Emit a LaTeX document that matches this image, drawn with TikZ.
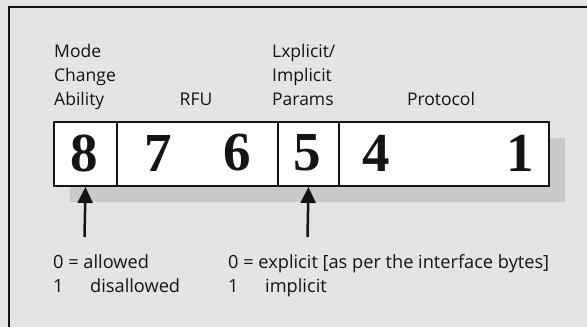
\documentclass[tikz,border=0pt]{standalone}
\usepackage{fontspec}
\setmainfont{Open Sans}
\newfontfamily\digitfont{Liberation Serif}
\usetikzlibrary{arrows.meta}
\definecolor{bggray}{HTML}{E4E4E4}
\definecolor{shadowgray}{HTML}{C9C9C9}
\definecolor{ink}{HTML}{141414}
\begin{document}
\begin{tikzpicture}[x=1pt,y=-1pt,
  cell/.style={draw=ink,line width=2pt,fill=white,minimum height=64pt,inner sep=0pt},
  digit/.style={font=\digitfont\bfseries\fontsize{55}{55}\selectfont,text=ink,inner sep=0pt},
  lab/.style={font=\fontsize{17.5}{20}\selectfont,text=ink,inner sep=0pt,anchor=base west},
  note/.style={font=\fontsize{18.2}{20}\selectfont,text=ink,inner sep=0pt,anchor=base west},
  arr/.style={draw=ink,line width=2.5pt,-{Triangle[width=15pt,length=16pt]}}]
\useasboundingbox (0,0) rectangle (587,327);
\fill[bggray] (0,0) rectangle (587,327);
\draw[ink,line width=2pt] (9,327) -- (9,7) -- (587,7);
% shadow
\fill[shadowgray] (70,138) rectangle (565,202);
% cells
\node[cell,minimum width=63pt,anchor=north west] (c8) at (53,121) {};
\node[cell,minimum width=161pt,anchor=north west] (c76) at (116,121) {};
\node[cell,minimum width=61pt,anchor=north west] (c5) at (277,121) {};
\node[cell,minimum width=210pt,anchor=north west] (c41) at (338,121) {};
% digits
\node[digit] (d8) at (84.5,153) {8};
\node[digit] (d7) at (158,153) {7};
\node[digit] (d6) at (237,153) {6};
\node[digit] (d5) at (307.5,153) {5};
\node[digit] (d4) at (376,153) {4};
\node[digit] (d1) at (520,153) {1};
% labels
\node[lab] (lmode1) at (54,57) {Mode};
\node[lab] (lmode2) at (54,81) {Change};
\node[lab] (lmode3) at (54,105) {Ability};
\node[lab,anchor=base] (lrfu) at (196,105) {RFU};
\node[lab] (lexp1) at (272,57) {Lxplicit/};
\node[lab] (lexp2) at (272,81) {Implicit};
\node[lab] (lexp3) at (272,105) {Params};
\node[lab,anchor=base] (lprot) at (441,105) {Protocol};
% arrows
\coordinate (a1) at (84.5,237);
\coordinate (a2) at (307.5,237);
\draw[arr] (a1) -- (c8.south);
\draw[arr] (a2) -- (c5.south);
% notes
\node[note] (n1) at (53,268) {0 = allowed};
\node[note] (n2) at (53,292) {1};
\node[note] (n3) at (90,292) {disallowed};
\node[note] (n4) at (228,268) {0 = explicit [as per the interface bytes]};
\node[note] (n5) at (228,292) {1};
\node[note] (n6) at (265,292) {implicit};
\end{tikzpicture}
\end{document}
